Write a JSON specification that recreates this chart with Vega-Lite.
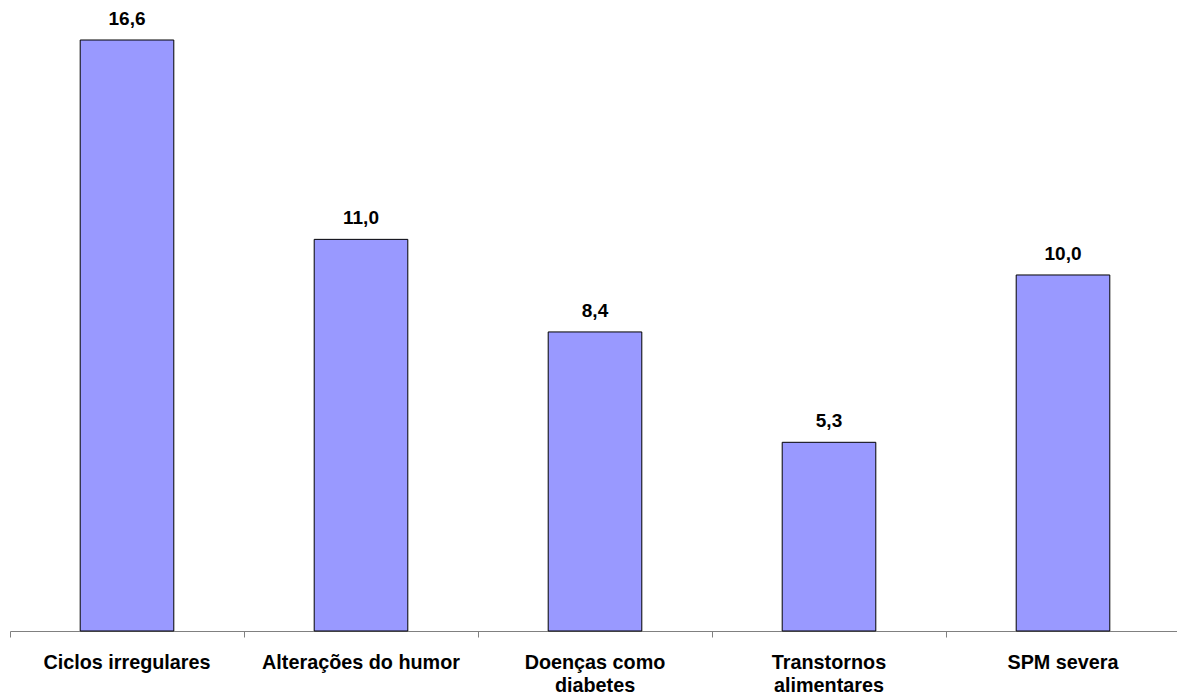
{
  "$schema": "https://vega.github.io/schema/vega-lite/v6.json",
  "autosize": {"type": "none"},
  "padding": {"left": 10, "top": 40, "right": 0, "bottom": 62},
  "width": 1170,
  "height": 591,
  "background": "white",
  "config": {"view": {"stroke": null}, "font": "Liberation Sans"},
  "data": {"values": [
    {"categoria": "Ciclos irregulares", "valor": 16.6, "rotulo": "16,6"},
    {"categoria": "Alterações do humor", "valor": 11.0, "rotulo": "11,0"},
    {"categoria": "Doenças como diabetes", "valor": 8.4, "rotulo": "8,4"},
    {"categoria": "Transtornos alimentares", "valor": 5.3, "rotulo": "5,3"},
    {"categoria": "SPM severa", "valor": 10.0, "rotulo": "10,0"}
  ]},
  "encoding": {
    "x": {"field": "categoria", "type": "nominal", "sort": null,
      "scale": {"paddingInner": 0, "paddingOuter": 0},
      "axis": {"title": null, "labelAngle": 0, "domainColor": "#808080", "tickColor": "#808080",
        "tickSize": 6, "bandPosition": 0, "labelFont": "Liberation Sans", "labelFontSize": 19.8,
        "labelFontWeight": "bold", "labelColor": "black", "labelPadding": 15, "labelLineHeight": 23.5,
        "labelLimit": 0, "labelBaseline": "top",
        "labelExpr": "datum.value == 'Doenças como diabetes' ? ['Doenças como', 'diabetes'] : datum.value == 'Transtornos alimentares' ? ['Transtornos', 'alimentares'] : datum.value"}},
    "y": {"field": "valor", "type": "quantitative", "scale": {"domain": [0, 16.6], "nice": false},
      "axis": null}
  },
  "layer": [
    {"mark": {"type": "bar", "fill": "#9999FF", "stroke": "black", "strokeWidth": 1, "width": {"band": 0.4}}},
    {"mark": {"type": "text", "font": "Liberation Sans", "fontSize": 19, "fontWeight": "bold", "color": "black", "baseline": "alphabetic", "dy": -15},
      "encoding": {"text": {"field": "rotulo"}}}
  ]
}
